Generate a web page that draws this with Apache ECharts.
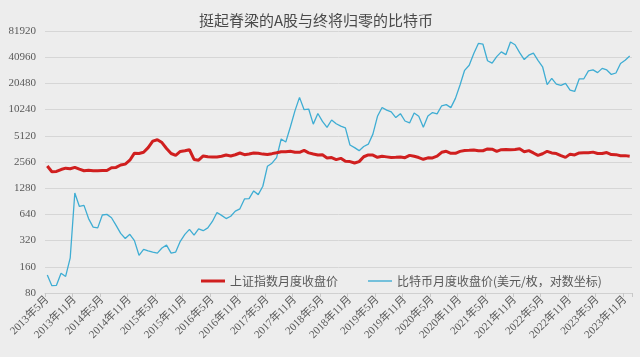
<!DOCTYPE html>
<html><head><meta charset="utf-8">
<script src="https://cdn.jsdelivr.net/npm/echarts@6/dist/echarts.min.js"></script>
<style>html,body{margin:0;padding:0;background:#EDEDED;}#c{width:640px;height:357px;}</style>
</head><body><div id="c"></div>
<script>
const startYear = 2013, startMonth = 5, monthCount = 128;
const categories = [];
for (let i = 0; i < monthCount; i++) {
  const m = startMonth - 1 + i;
  categories.push((startYear + Math.floor(m / 12)) + '年' + (m % 12 + 1) + '月');
}
const shIndex = [
  2300.6, 1979.2, 1993.8, 2098.4, 2174.7, 2141.6, 2220.5, 2116.0,
  2033.1, 2056.3, 2033.3, 2026.4, 2039.2, 2048.3, 2201.6, 2217.2, 2363.9, 2420.2, 2682.8, 3234.7,
  3210.4, 3310.3, 3747.9, 4441.7, 4611.7, 4277.2, 3663.7, 3206.0, 3052.8, 3382.6, 3445.4, 3539.2,
  2737.6, 2688.0, 3003.9, 2938.3, 2916.6, 2929.6, 2979.3, 3085.5, 3004.7, 3100.5, 3250.0, 3103.6,
  3159.2, 3241.7, 3222.5, 3154.7, 3117.2, 3192.4, 3273.0, 3360.8, 3348.9, 3393.3, 3317.2, 3307.2,
  3480.8, 3259.4, 3168.9, 3082.2, 3095.5, 2847.4, 2876.4, 2725.3, 2821.4, 2602.8, 2588.2, 2493.9,
  2584.6, 2941.0, 3090.8, 3078.3, 2898.7, 2979.0, 2932.5, 2886.2, 2905.2, 2929.1, 2872.0, 3050.1,
  2976.5, 2880.3, 2750.3, 2860.1, 2852.4, 2984.7, 3310.0, 3395.7, 3218.1, 3224.5, 3391.8, 3473.1,
  3483.1, 3509.1, 3441.9, 3446.9, 3615.5, 3591.2, 3397.4, 3543.9, 3568.2, 3547.3, 3563.9, 3639.8,
  3361.4, 3462.3, 3252.2, 3047.1, 3186.4, 3398.6, 3253.2, 3202.1, 3024.4, 2893.5, 3151.3, 3089.3,
  3255.7, 3279.6, 3272.9, 3323.3, 3204.6, 3202.1, 3291.0, 3119.9, 3110.5, 3018.8, 3029.7, 2974.9
];
const btcPrice = [
  129, 97, 98, 135, 124, 203, 1129, 790,
  813, 573, 457, 448, 630, 640, 586, 478, 387, 338, 378, 320,
  217, 254, 244, 236, 230, 263, 284, 230, 236, 314, 377, 430,
  369, 437, 416, 448, 531, 673, 624, 573, 609, 698, 742, 963,
  970, 1190, 1080, 1348, 2286, 2480, 2875, 4703, 4338, 6468, 9907, 14156,
  10221, 10397, 6973, 9240, 7494, 6404, 7780, 7037, 6625, 6318, 4017, 3742,
  3457, 3854, 4105, 5350, 8574, 10817, 10085, 9630, 8293, 9199, 7569, 7193,
  9350, 8599, 6438, 8658, 9461, 9137, 11323, 11681, 10784, 13781, 19625, 28949,
  33114, 45137, 58918, 57750, 37332, 35041, 41626, 47166, 43790, 61318, 57005, 46306,
  38483, 43194, 45539, 37714, 31792, 19785, 23337, 20050, 19432, 20496, 17168, 16548,
  23139, 23147, 28478, 29268, 27219, 30477, 29230, 25931, 26963, 34668, 37713, 42265
];
const yTickLabels = [80, 160, 320, 640, 1280, 2560, 5120, 10240, 20480, 40960, 81920];
const yBase = yTickLabels[0];
const seriesNames = ['上证指数月度收盘价', '比特币月度收盘价(美元/枚，对数坐标)'];
const titleText = '挺起脊梁的A股与终将归零的比特币';

// log2 scale: each doubling is one step of the linear axis
const toLog = v => Math.log2(v / yBase);

const chart = echarts.init(document.getElementById('c'), null, {renderer: 'canvas'});
const serif = '"Liberation Serif","Noto Sans CJK SC",serif';
const cjk = '"Noto Sans CJK SC","Liberation Serif",sans-serif';
chart.setOption({
  backgroundColor: '#EDEDED',
  animation: false,
  title: {
    text: titleText, left: 194, top: 8,
    textStyle: {fontFamily: cjk, fontSize: 15, fontWeight: 'normal', color: '#4a4a4a'}
  },
  legend: {
    left: 196, top: 270, itemGap: 30, itemWidth: 24, itemHeight: 12,
    textStyle: {fontFamily: cjk, fontSize: 12, color: '#595959'},
    data: [
      {name: seriesNames[0], icon: 'path://M0,0H24V3H0Z'},
      {name: seriesNames[1], icon: 'path://M0,0H24V1.4H0Z'}
    ]
  },
  grid: {left: 45, right: 8, top: 31, bottom: 64},
  xAxis: {
    type: 'category', data: categories, boundaryGap: true,
    axisLine: {lineStyle: {color: '#D0D0D0', width: 1}},
    axisTick: {show: true, interval: 5, length: 4, lineStyle: {color: '#C8C8C8'}},
    axisLabel: {interval: 5, rotate: 45, margin: 5, fontFamily: serif, fontSize: 11, color: '#595959'}
  },
  yAxis: {
    type: 'value', min: 0, max: yTickLabels.length - 1, interval: 1,
    axisLine: {show: false}, axisTick: {show: false},
    splitLine: {lineStyle: {color: '#D6D6D6', width: 1}},
    axisLabel: {margin: 9, fontFamily: serif, fontSize: 11, color: '#595959',
      formatter: v => String(yTickLabels[Math.round(v)])}
  },
  series: [
    {name: seriesNames[0], type: 'line', symbol: 'none', smooth: false,
     data: shIndex.map(toLog),
     lineStyle: {color: '#D01F1F', width: 3}, itemStyle: {color: '#D01F1F'}, z: 3},
    {name: seriesNames[1], type: 'line', symbol: 'none', smooth: false,
     data: btcPrice.map(toLog),
     lineStyle: {color: '#3FADD3', width: 1.3}, itemStyle: {color: '#3FADD3'}, z: 2}
  ]
});
</script></body></html>
